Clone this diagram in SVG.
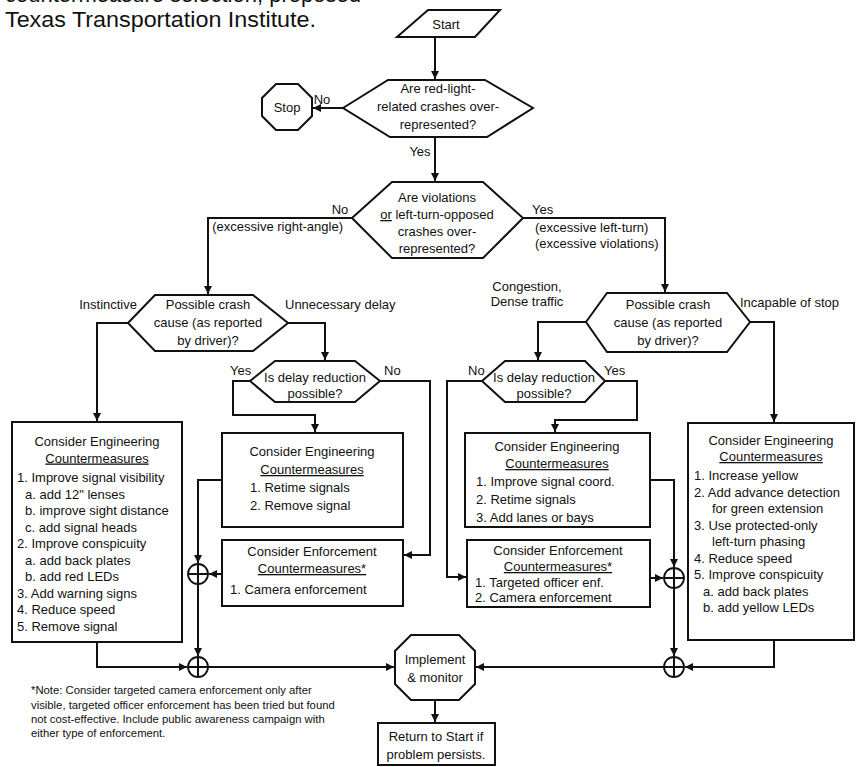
<svg xmlns="http://www.w3.org/2000/svg" width="856" height="767" viewBox="0 0 856 767">
<style>
.n{fill:#fff;stroke:#111;stroke-width:2}
.c{fill:none;stroke:#111;stroke-width:2}
.j{fill:#fff;stroke:#111;stroke-width:1.8}
text{font-family:"Liberation Sans",Arial,sans-serif;font-size:13px;fill:#111}
.m{text-anchor:middle}
.e{text-anchor:end}
.u{text-decoration:underline}
.t{font-size:22px}
.nt{font-size:11.3px}
</style>
<defs>
<marker id="a" markerUnits="userSpaceOnUse" markerWidth="9" markerHeight="9" refX="8" refY="4" orient="auto">
<path d="M0,0 L8,4 L0,8 Z" fill="#111"/>
</marker>
</defs>

<g id="title">
<text class="t" x="5" y="2">countermeasure selection, proposed</text>
<text class="t" x="5" y="27" textLength="311" lengthAdjust="spacingAndGlyphs">Texas Transportation Institute.</text>
</g>

<g id="connectors">
<path class="c" d="M435,37 L435,79" marker-end="url(#a)"/>
<path class="c" d="M343,108 L313,108" marker-end="url(#a)"/>
<path class="c" d="M435,137 L435,181" marker-end="url(#a)"/>
<path class="c" d="M352,218 L208,218 L208,294" marker-end="url(#a)"/>
<path class="c" d="M523,218 L665,218 L665,292" marker-end="url(#a)"/>
<path class="c" d="M128,323 L97,323 L97,421" marker-end="url(#a)"/>
<path class="c" d="M288,323 L325,323 L325,360" marker-end="url(#a)"/>
<path class="c" d="M586,322 L538,322 L538,360" marker-end="url(#a)"/>
<path class="c" d="M750,322 L774,322 L774,422" marker-end="url(#a)"/>
<path class="c" d="M250,381 L233,381 L233,415 L315,415 L315,432" marker-end="url(#a)"/>
<path class="c" d="M380,381 L430,381 L430,555 L404,555" marker-end="url(#a)"/>
<path class="c" d="M482,381 L447,381 L447,577 L466,577" marker-end="url(#a)"/>
<path class="c" d="M605,381 L637,381 L637,420 L555,420 L555,432" marker-end="url(#a)"/>
<path class="c" d="M222,480 L198,480 L198,563" marker-end="url(#a)"/>
<path class="c" d="M222,574 L209,574" marker-end="url(#a)"/>
<path class="c" d="M198,584 L198,656" marker-end="url(#a)"/>
<path class="c" d="M97,642 L97,667 L187,667" marker-end="url(#a)"/>
<path class="c" d="M208,667 L394,667" marker-end="url(#a)"/>
<path class="c" d="M650,480 L674,480 L674,567" marker-end="url(#a)"/>
<path class="c" d="M650,578 L663,578" marker-end="url(#a)"/>
<path class="c" d="M674,588 L674,656" marker-end="url(#a)"/>
<path class="c" d="M774,640 L774,667 L685,667" marker-end="url(#a)"/>
<path class="c" d="M664,667 L476,667" marker-end="url(#a)"/>
<path class="c" d="M435,700 L435,722" marker-end="url(#a)"/>
</g>

<g id="labels">
<text x="322" y="104" class="m">No</text>
<text x="420" y="156" class="m">Yes</text>
<text x="340" y="214" class="m">No</text>
<text x="532" y="214">Yes</text>
<text x="343" y="231" class="e">(excessive right-angle)</text>
<text x="535" y="232">(excessive left-turn)</text>
<text x="535" y="248">(excessive violations)</text>
<text x="137" y="309" class="e">Instinctive</text>
<text x="285" y="309">Unnecessary delay</text>
<text x="527" y="291" class="m">Congestion,</text>
<text x="527" y="306" class="m">Dense traffic</text>
<text x="740" y="307">Incapable of stop</text>
<text x="230" y="375">Yes</text>
<text x="384" y="375">No</text>
<text x="468" y="375">No</text>
<text x="604" y="375">Yes</text>
</g>

<g id="start">
<polygon class="n" points="428,10 500,10 475,37 397,37"/>
<text x="446" y="29" class="m">Start</text>
</g>

<g id="stop">
<polygon class="n" points="276,84 298,84 312,98 312,116 298,130 276,130 262,116 262,98"/>
<text x="287" y="112" class="m">Stop</text>
</g>

<g id="d1">
<polygon class="n" points="343,108 388,80 485,80 533,108 487,137 390,137"/>
<text x="438" y="93" class="m">Are red-light-</text>
<text x="438" y="111" class="m">related crashes over-</text>
<text x="438" y="129" class="m">represented?</text>
</g>

<g id="d2">
<polygon class="n" points="352,218 392,182 483,182 523,218 483,258 392,258"/>
<text x="437" y="202" class="m">Are violations</text>
<text x="437" y="219" class="m"><tspan class="u">or</tspan> left-turn-opposed</text>
<text x="437" y="236" class="m">crashes over-</text>
<text x="437" y="253" class="m">represented?</text>
</g>

<g id="d3">
<polygon class="n" points="128,323 155,295 253,295 288,323 253,351 155,351"/>
<text x="208" y="309" class="m">Possible crash</text>
<text x="208" y="327" class="m">cause (as reported</text>
<text x="208" y="345" class="m">by driver)?</text>
</g>

<g id="d4">
<polygon class="n" points="586,322 607,293 727,293 750,322 727,352 607,352"/>
<text x="668" y="309" class="m">Possible crash</text>
<text x="668" y="327" class="m">cause (as reported</text>
<text x="668" y="345" class="m">by driver)?</text>
</g>

<g id="d5">
<polygon class="n" points="250,381 275,361 355,361 380,381 355,402 275,402"/>
<text x="315" y="382" class="m">Is delay reduction</text>
<text x="315" y="398" class="m">possible?</text>
</g>

<g id="d6">
<polygon class="n" points="482,381 505,361 585,361 605,381 585,402 505,402"/>
<text x="544" y="382" class="m">Is delay reduction</text>
<text x="544" y="398" class="m">possible?</text>
</g>

<g id="box-left">
<rect class="n" x="12" y="422" width="170" height="220"/>
<text x="97" y="446" class="m">Consider Engineering</text>
<text x="97" y="462.5" class="m u">Countermeasures</text>
<text x="17" y="482">1. Improve signal visibility</text>
<text x="25" y="498.5">a. add 12" lenses</text>
<text x="25" y="515">b. improve sight distance</text>
<text x="25" y="531.5">c. add signal heads</text>
<text x="17" y="548">2. Improve conspicuity</text>
<text x="25" y="564.5">a. add back plates</text>
<text x="25" y="581">b. add red LEDs</text>
<text x="17" y="597.5">3. Add warning signs</text>
<text x="17" y="614">4. Reduce speed</text>
<text x="17" y="630.5">5. Remove signal</text>
</g>

<g id="box-eng-cl">
<rect class="n" x="222" y="433" width="181" height="94"/>
<text x="312" y="456" class="m">Consider Engineering</text>
<text x="312" y="474" class="m u">Countermeasures</text>
<text x="250" y="492">1. Retime signals</text>
<text x="250" y="510">2. Remove signal</text>
</g>

<g id="box-enf-cl">
<rect class="n" x="222" y="540" width="181" height="66"/>
<text x="312" y="556" class="m">Consider Enforcement</text>
<text x="312" y="573" class="m u">Countermeasures*</text>
<text x="230" y="594">1. Camera enforcement</text>
</g>

<g id="box-eng-cr">
<rect class="n" x="465" y="433" width="185" height="94"/>
<text x="557" y="451" class="m">Consider Engineering</text>
<text x="557" y="468" class="m u">Countermeasures</text>
<text x="476" y="486">1. Improve signal coord.</text>
<text x="476" y="504">2. Retime signals</text>
<text x="476" y="522">3. Add lanes or bays</text>
</g>

<g id="box-enf-cr">
<rect class="n" x="467" y="540" width="183" height="67"/>
<text x="558" y="555" class="m">Consider Enforcement</text>
<text x="558" y="571" class="m u">Countermeasures*</text>
<text x="475" y="587">1. Targeted officer enf.</text>
<text x="475" y="602">2. Camera enforcement</text>
</g>

<g id="box-right">
<rect class="n" x="688" y="423" width="166" height="217"/>
<text x="771" y="444.5" class="m">Consider Engineering</text>
<text x="771" y="461" class="m u">Countermeasures</text>
<text x="694" y="480">1. Increase yellow</text>
<text x="694" y="496.5">2. Add advance detection</text>
<text x="712" y="513">for green extension</text>
<text x="694" y="529.5">3. Use protected-only</text>
<text x="712" y="546">left-turn phasing</text>
<text x="694" y="562.5">4. Reduce speed</text>
<text x="694" y="579">5. Improve conspicuity</text>
<text x="703" y="595.5">a. add back plates</text>
<text x="703" y="612">b. add yellow LEDs</text>
</g>

<g id="j1">
<circle class="j" cx="198" cy="574" r="10"/>
<path class="c" d="M188,574 H208 M198,564 V584" stroke-width="1.5"/>
</g>
<g id="j2">
<circle class="j" cx="198" cy="667" r="10"/>
<path class="c" d="M188,667 H208 M198,657 V677" stroke-width="1.5"/>
</g>
<g id="j3">
<circle class="j" cx="674" cy="578" r="10"/>
<path class="c" d="M664,578 H684 M674,568 V588" stroke-width="1.5"/>
</g>
<g id="j4">
<circle class="j" cx="674" cy="667" r="10"/>
<path class="c" d="M664,667 H684 M674,657 V677" stroke-width="1.5"/>
</g>

<g id="implement">
<polygon class="n" points="411,635 459,635 475,651 475,684 459,700 411,700 395,684 395,651"/>
<text x="435" y="664" class="m">Implement</text>
<text x="435" y="682" class="m">&amp; monitor</text>
</g>

<g id="return">
<rect class="n" x="378" y="723" width="117" height="42"/>
<text x="436" y="741" class="m">Return to Start if</text>
<text x="436" y="759" class="m">problem persists.</text>
</g>

<g id="note">
<text class="nt" x="31" y="694">*Note:  Consider targeted camera enforcement only after</text>
<text class="nt" x="31" y="709">visible, targeted officer enforcement has been tried but found</text>
<text class="nt" x="31" y="723">not cost-effective.  Include public awareness campaign with</text>
<text class="nt" x="31" y="737">either type of enforcement.</text>
</g>
</svg>
